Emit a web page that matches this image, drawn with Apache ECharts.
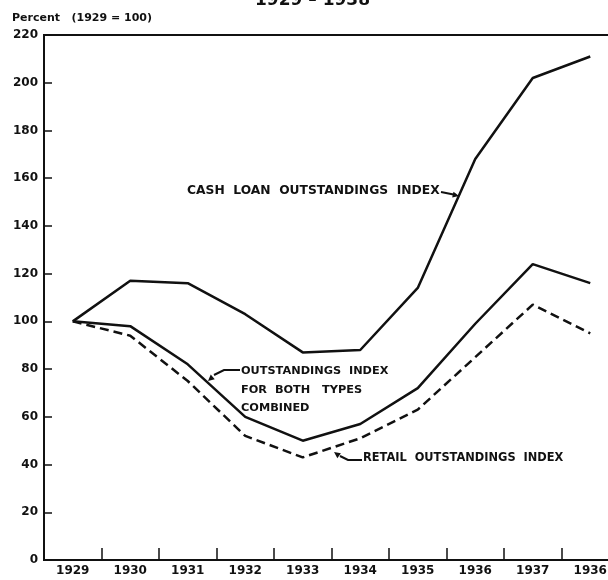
<!DOCTYPE html>
<html>
<head>
<meta charset="utf-8">
<script src="https://cdn.jsdelivr.net/npm/echarts@6/dist/echarts.min.js"></script>
<style>
  html, body { margin: 0; padding: 0; background: #fff; }
  #main { width: 608px; height: 580px; }
</style>
</head>
<body>
<div id="main"></div>
<script>
// years on the axis, and the labels as printed (last one misprinted as 1936)
var years = ['1929', '1930', '1931', '1932', '1933', '1934', '1935', '1936', '1937', '1938'];
var yearLabels = ['1929', '1930', '1931', '1932', '1933', '1934', '1935', '1936', '1937', '1936'];

// index values, 1929 = 100
var cashLoan = [100, 117, 116, 103, 87, 88, 114, 168, 202, 211];
var combined = [100, 98, 82, 60, 50, 57, 72, 99, 124, 116];
var retail   = [100, 94, 75, 52, 43, 51, 63, 85, 107, 95];

var yTicks = [0, 20, 40, 60, 80, 100, 120, 140, 160, 180, 200, 220];

var ink = '#111';
var font = 'DejaVu Sans';

var chart = echarts.init(document.getElementById('main'));

// arrowhead helper for annotation leaders
function arrowHead(tx, ty, fx, fy) {
  var a = Math.atan2(ty - fy, tx - fx), L = 7, w = 0.45;
  return {
    type: 'polygon',
    shape: { points: [[tx, ty],
      [tx - L * Math.cos(a - w), ty - L * Math.sin(a - w)],
      [tx - L * Math.cos(a + w), ty - L * Math.sin(a + w)]] },
    style: { fill: ink }
  };
}

var option = {
  backgroundColor: '#fff',
  animation: false,
  // plot runs past the right edge of the page, like the cropped scan
  grid: { left: 44, top: 35, right: -11, bottom: 20, outerBoundsMode: 'none', containLabel: false,
          show: true, borderColor: ink, borderWidth: 2, backgroundColor: 'transparent' },
  xAxis: {
    type: 'category',
    data: years,
    boundaryGap: true,
    axisLine: { show: true, lineStyle: { color: ink, width: 2 } },
    axisTick: { show: true, inside: true, length: 12, lineStyle: { color: ink, width: 1.5 } },
    axisLabel: {
      color: ink, fontFamily: font, fontWeight: 'bold', fontSize: 12, margin: 5,
      formatter: function (v, i) { return yearLabels[i]; }
    },
    splitLine: { show: false }
  },
  yAxis: {
    type: 'value',
    min: 0, max: 220, interval: 20,
    axisLine: { show: true, lineStyle: { color: ink, width: 2 } },
    axisTick: { show: true, inside: true, length: 8, lineStyle: { color: ink, width: 1.5 } },
    axisLabel: {
      color: ink, fontFamily: font, fontWeight: 'bold', fontSize: 12, margin: 6,
      formatter: function (v) { return yTicks.indexOf(v) >= 0 ? String(v) : ''; }
    },
    splitLine: { show: false }
  },
  series: [
    { name: 'Cash loan', type: 'line', data: cashLoan, symbol: 'none',
      lineStyle: { color: ink, width: 2.5 } },
    { name: 'Combined', type: 'line', data: combined, symbol: 'none',
      lineStyle: { color: ink, width: 2.5 } },
    { name: 'Retail', type: 'line', data: retail, symbol: 'none',
      lineStyle: { color: ink, width: 2.5, type: [9, 5] } }
  ],
  graphic: [
    { type: 'text', left: 255, top: -8, style: { text: '1929 – 1938', fill: ink, fontFamily: font, fontWeight: 'bold', fontSize: 17 } },
    { type: 'text', left: 12, top: 13, style: { text: 'Percent   (1929 = 100)', fill: ink, fontFamily: font, fontWeight: 'bold', fontSize: 11 } },

    { type: 'text', left: 187, top: 185, style: { text: 'CASH  LOAN  OUTSTANDINGS  INDEX', fill: ink, fontFamily: font, fontWeight: 'bold', fontSize: 12.3 } },
    { type: 'polyline', shape: { points: [[441, 192], [456, 195]] }, style: { stroke: ink, lineWidth: 2, fill: null } },
    arrowHead(459, 196, 441, 192),

    { type: 'text', left: 241, top: 362, style: { text: 'OUTSTANDINGS  INDEX\nFOR  BOTH   TYPES\nCOMBINED', lineHeight: 18.5, fill: ink, fontFamily: font, fontWeight: 'bold', fontSize: 11.3 } },
    { type: 'polyline', shape: { points: [[240, 370], [224, 370], [214, 375]] }, style: { stroke: ink, lineWidth: 2, fill: null } },
    arrowHead(208, 381, 216, 374),

    { type: 'text', left: 363, top: 453, style: { text: 'RETAIL  OUTSTANDINGS  INDEX', fill: ink, fontFamily: font, fontWeight: 'bold', fontSize: 11.4 } },
    { type: 'polyline', shape: { points: [[362, 460], [348, 460], [340, 456]] }, style: { stroke: ink, lineWidth: 2, fill: null } },
    arrowHead(334, 452, 341, 457)
  ]
};

chart.setOption(option);
</script>
</body>
</html>
